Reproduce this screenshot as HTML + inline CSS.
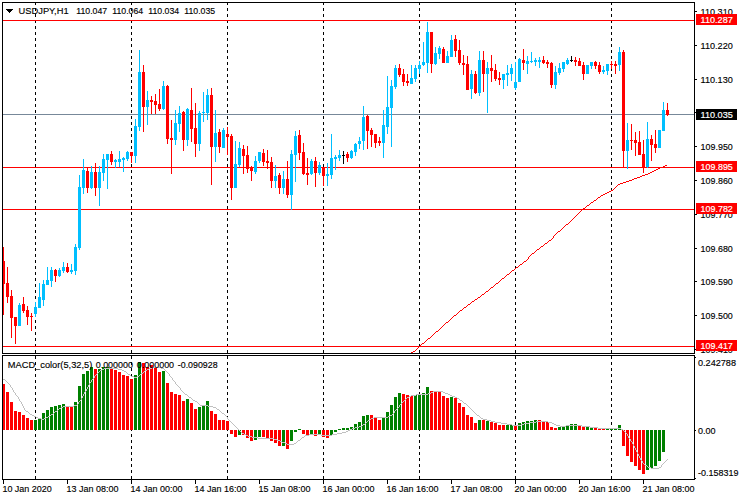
<!DOCTYPE html>
<html><head><meta charset="utf-8"><title>USDJPY,H1</title>
<style>
html,body{margin:0;padding:0;background:#fff;}
body{width:740px;height:500px;overflow:hidden;}
svg{display:block;}
svg rect,svg polyline,svg path{shape-rendering:crispEdges;}
svg text{font-family:"Liberation Sans",sans-serif;font-size:9.7px;white-space:pre;}
</style></head><body>
<svg width="740" height="500" viewBox="0 0 740 500">
<rect x="0" y="0" width="740" height="500" fill="#fff"/>
<path fill="#000" d="M35 3h1v2h-1zM35 8h1v3h-1zM35 14h1v3h-1zM35 20h1v3h-1zM35 26h1v3h-1zM35 32h1v3h-1zM35 38h1v3h-1zM35 44h1v3h-1zM35 50h1v3h-1zM35 56h1v3h-1zM35 62h1v3h-1zM35 68h1v3h-1zM35 74h1v3h-1zM35 80h1v3h-1zM35 86h1v3h-1zM35 92h1v3h-1zM35 98h1v3h-1zM35 104h1v3h-1zM35 110h1v3h-1zM35 116h1v3h-1zM35 122h1v3h-1zM35 128h1v3h-1zM35 134h1v3h-1zM35 140h1v3h-1zM35 146h1v3h-1zM35 152h1v3h-1zM35 158h1v3h-1zM35 164h1v3h-1zM35 170h1v3h-1zM35 176h1v3h-1zM35 182h1v3h-1zM35 188h1v3h-1zM35 194h1v3h-1zM35 200h1v3h-1zM35 206h1v3h-1zM35 212h1v3h-1zM35 218h1v3h-1zM35 224h1v3h-1zM35 230h1v3h-1zM35 236h1v3h-1zM35 242h1v3h-1zM35 248h1v3h-1zM35 254h1v3h-1zM35 260h1v3h-1zM35 266h1v3h-1zM35 272h1v3h-1zM35 278h1v3h-1zM35 284h1v3h-1zM35 290h1v3h-1zM35 296h1v3h-1zM35 302h1v3h-1zM35 308h1v3h-1zM35 314h1v3h-1zM35 320h1v3h-1zM35 326h1v3h-1zM35 332h1v3h-1zM35 338h1v3h-1zM35 344h1v3h-1zM35 350h1v3h-1zM35 356h1v3h-1zM35 362h1v3h-1zM35 368h1v3h-1zM35 374h1v3h-1zM35 380h1v3h-1zM35 386h1v3h-1zM35 392h1v3h-1zM35 398h1v3h-1zM35 404h1v3h-1zM35 410h1v3h-1zM35 416h1v3h-1zM35 422h1v3h-1zM35 428h1v3h-1zM35 434h1v3h-1zM35 440h1v3h-1zM35 446h1v3h-1zM35 452h1v3h-1zM35 458h1v3h-1zM35 464h1v3h-1zM35 470h1v3h-1zM35 476h1v3h-1zM131 3h1v2h-1zM131 8h1v3h-1zM131 14h1v3h-1zM131 20h1v3h-1zM131 26h1v3h-1zM131 32h1v3h-1zM131 38h1v3h-1zM131 44h1v3h-1zM131 50h1v3h-1zM131 56h1v3h-1zM131 62h1v3h-1zM131 68h1v3h-1zM131 74h1v3h-1zM131 80h1v3h-1zM131 86h1v3h-1zM131 92h1v3h-1zM131 98h1v3h-1zM131 104h1v3h-1zM131 110h1v3h-1zM131 116h1v3h-1zM131 122h1v3h-1zM131 128h1v3h-1zM131 134h1v3h-1zM131 140h1v3h-1zM131 146h1v3h-1zM131 152h1v3h-1zM131 158h1v3h-1zM131 164h1v3h-1zM131 170h1v3h-1zM131 176h1v3h-1zM131 182h1v3h-1zM131 188h1v3h-1zM131 194h1v3h-1zM131 200h1v3h-1zM131 206h1v3h-1zM131 212h1v3h-1zM131 218h1v3h-1zM131 224h1v3h-1zM131 230h1v3h-1zM131 236h1v3h-1zM131 242h1v3h-1zM131 248h1v3h-1zM131 254h1v3h-1zM131 260h1v3h-1zM131 266h1v3h-1zM131 272h1v3h-1zM131 278h1v3h-1zM131 284h1v3h-1zM131 290h1v3h-1zM131 296h1v3h-1zM131 302h1v3h-1zM131 308h1v3h-1zM131 314h1v3h-1zM131 320h1v3h-1zM131 326h1v3h-1zM131 332h1v3h-1zM131 338h1v3h-1zM131 344h1v3h-1zM131 350h1v3h-1zM131 356h1v3h-1zM131 362h1v3h-1zM131 368h1v3h-1zM131 374h1v3h-1zM131 380h1v3h-1zM131 386h1v3h-1zM131 392h1v3h-1zM131 398h1v3h-1zM131 404h1v3h-1zM131 410h1v3h-1zM131 416h1v3h-1zM131 422h1v3h-1zM131 428h1v3h-1zM131 434h1v3h-1zM131 440h1v3h-1zM131 446h1v3h-1zM131 452h1v3h-1zM131 458h1v3h-1zM131 464h1v3h-1zM131 470h1v3h-1zM131 476h1v3h-1zM227 3h1v2h-1zM227 8h1v3h-1zM227 14h1v3h-1zM227 20h1v3h-1zM227 26h1v3h-1zM227 32h1v3h-1zM227 38h1v3h-1zM227 44h1v3h-1zM227 50h1v3h-1zM227 56h1v3h-1zM227 62h1v3h-1zM227 68h1v3h-1zM227 74h1v3h-1zM227 80h1v3h-1zM227 86h1v3h-1zM227 92h1v3h-1zM227 98h1v3h-1zM227 104h1v3h-1zM227 110h1v3h-1zM227 116h1v3h-1zM227 122h1v3h-1zM227 128h1v3h-1zM227 134h1v3h-1zM227 140h1v3h-1zM227 146h1v3h-1zM227 152h1v3h-1zM227 158h1v3h-1zM227 164h1v3h-1zM227 170h1v3h-1zM227 176h1v3h-1zM227 182h1v3h-1zM227 188h1v3h-1zM227 194h1v3h-1zM227 200h1v3h-1zM227 206h1v3h-1zM227 212h1v3h-1zM227 218h1v3h-1zM227 224h1v3h-1zM227 230h1v3h-1zM227 236h1v3h-1zM227 242h1v3h-1zM227 248h1v3h-1zM227 254h1v3h-1zM227 260h1v3h-1zM227 266h1v3h-1zM227 272h1v3h-1zM227 278h1v3h-1zM227 284h1v3h-1zM227 290h1v3h-1zM227 296h1v3h-1zM227 302h1v3h-1zM227 308h1v3h-1zM227 314h1v3h-1zM227 320h1v3h-1zM227 326h1v3h-1zM227 332h1v3h-1zM227 338h1v3h-1zM227 344h1v3h-1zM227 350h1v3h-1zM227 356h1v3h-1zM227 362h1v3h-1zM227 368h1v3h-1zM227 374h1v3h-1zM227 380h1v3h-1zM227 386h1v3h-1zM227 392h1v3h-1zM227 398h1v3h-1zM227 404h1v3h-1zM227 410h1v3h-1zM227 416h1v3h-1zM227 422h1v3h-1zM227 428h1v3h-1zM227 434h1v3h-1zM227 440h1v3h-1zM227 446h1v3h-1zM227 452h1v3h-1zM227 458h1v3h-1zM227 464h1v3h-1zM227 470h1v3h-1zM227 476h1v3h-1zM323 3h1v2h-1zM323 8h1v3h-1zM323 14h1v3h-1zM323 20h1v3h-1zM323 26h1v3h-1zM323 32h1v3h-1zM323 38h1v3h-1zM323 44h1v3h-1zM323 50h1v3h-1zM323 56h1v3h-1zM323 62h1v3h-1zM323 68h1v3h-1zM323 74h1v3h-1zM323 80h1v3h-1zM323 86h1v3h-1zM323 92h1v3h-1zM323 98h1v3h-1zM323 104h1v3h-1zM323 110h1v3h-1zM323 116h1v3h-1zM323 122h1v3h-1zM323 128h1v3h-1zM323 134h1v3h-1zM323 140h1v3h-1zM323 146h1v3h-1zM323 152h1v3h-1zM323 158h1v3h-1zM323 164h1v3h-1zM323 170h1v3h-1zM323 176h1v3h-1zM323 182h1v3h-1zM323 188h1v3h-1zM323 194h1v3h-1zM323 200h1v3h-1zM323 206h1v3h-1zM323 212h1v3h-1zM323 218h1v3h-1zM323 224h1v3h-1zM323 230h1v3h-1zM323 236h1v3h-1zM323 242h1v3h-1zM323 248h1v3h-1zM323 254h1v3h-1zM323 260h1v3h-1zM323 266h1v3h-1zM323 272h1v3h-1zM323 278h1v3h-1zM323 284h1v3h-1zM323 290h1v3h-1zM323 296h1v3h-1zM323 302h1v3h-1zM323 308h1v3h-1zM323 314h1v3h-1zM323 320h1v3h-1zM323 326h1v3h-1zM323 332h1v3h-1zM323 338h1v3h-1zM323 344h1v3h-1zM323 350h1v3h-1zM323 356h1v3h-1zM323 362h1v3h-1zM323 368h1v3h-1zM323 374h1v3h-1zM323 380h1v3h-1zM323 386h1v3h-1zM323 392h1v3h-1zM323 398h1v3h-1zM323 404h1v3h-1zM323 410h1v3h-1zM323 416h1v3h-1zM323 422h1v3h-1zM323 428h1v3h-1zM323 434h1v3h-1zM323 440h1v3h-1zM323 446h1v3h-1zM323 452h1v3h-1zM323 458h1v3h-1zM323 464h1v3h-1zM323 470h1v3h-1zM323 476h1v3h-1zM419 3h1v2h-1zM419 8h1v3h-1zM419 14h1v3h-1zM419 20h1v3h-1zM419 26h1v3h-1zM419 32h1v3h-1zM419 38h1v3h-1zM419 44h1v3h-1zM419 50h1v3h-1zM419 56h1v3h-1zM419 62h1v3h-1zM419 68h1v3h-1zM419 74h1v3h-1zM419 80h1v3h-1zM419 86h1v3h-1zM419 92h1v3h-1zM419 98h1v3h-1zM419 104h1v3h-1zM419 110h1v3h-1zM419 116h1v3h-1zM419 122h1v3h-1zM419 128h1v3h-1zM419 134h1v3h-1zM419 140h1v3h-1zM419 146h1v3h-1zM419 152h1v3h-1zM419 158h1v3h-1zM419 164h1v3h-1zM419 170h1v3h-1zM419 176h1v3h-1zM419 182h1v3h-1zM419 188h1v3h-1zM419 194h1v3h-1zM419 200h1v3h-1zM419 206h1v3h-1zM419 212h1v3h-1zM419 218h1v3h-1zM419 224h1v3h-1zM419 230h1v3h-1zM419 236h1v3h-1zM419 242h1v3h-1zM419 248h1v3h-1zM419 254h1v3h-1zM419 260h1v3h-1zM419 266h1v3h-1zM419 272h1v3h-1zM419 278h1v3h-1zM419 284h1v3h-1zM419 290h1v3h-1zM419 296h1v3h-1zM419 302h1v3h-1zM419 308h1v3h-1zM419 314h1v3h-1zM419 320h1v3h-1zM419 326h1v3h-1zM419 332h1v3h-1zM419 338h1v3h-1zM419 344h1v3h-1zM419 350h1v3h-1zM419 356h1v3h-1zM419 362h1v3h-1zM419 368h1v3h-1zM419 374h1v3h-1zM419 380h1v3h-1zM419 386h1v3h-1zM419 392h1v3h-1zM419 398h1v3h-1zM419 404h1v3h-1zM419 410h1v3h-1zM419 416h1v3h-1zM419 422h1v3h-1zM419 428h1v3h-1zM419 434h1v3h-1zM419 440h1v3h-1zM419 446h1v3h-1zM419 452h1v3h-1zM419 458h1v3h-1zM419 464h1v3h-1zM419 470h1v3h-1zM419 476h1v3h-1zM515 3h1v2h-1zM515 8h1v3h-1zM515 14h1v3h-1zM515 20h1v3h-1zM515 26h1v3h-1zM515 32h1v3h-1zM515 38h1v3h-1zM515 44h1v3h-1zM515 50h1v3h-1zM515 56h1v3h-1zM515 62h1v3h-1zM515 68h1v3h-1zM515 74h1v3h-1zM515 80h1v3h-1zM515 86h1v3h-1zM515 92h1v3h-1zM515 98h1v3h-1zM515 104h1v3h-1zM515 110h1v3h-1zM515 116h1v3h-1zM515 122h1v3h-1zM515 128h1v3h-1zM515 134h1v3h-1zM515 140h1v3h-1zM515 146h1v3h-1zM515 152h1v3h-1zM515 158h1v3h-1zM515 164h1v3h-1zM515 170h1v3h-1zM515 176h1v3h-1zM515 182h1v3h-1zM515 188h1v3h-1zM515 194h1v3h-1zM515 200h1v3h-1zM515 206h1v3h-1zM515 212h1v3h-1zM515 218h1v3h-1zM515 224h1v3h-1zM515 230h1v3h-1zM515 236h1v3h-1zM515 242h1v3h-1zM515 248h1v3h-1zM515 254h1v3h-1zM515 260h1v3h-1zM515 266h1v3h-1zM515 272h1v3h-1zM515 278h1v3h-1zM515 284h1v3h-1zM515 290h1v3h-1zM515 296h1v3h-1zM515 302h1v3h-1zM515 308h1v3h-1zM515 314h1v3h-1zM515 320h1v3h-1zM515 326h1v3h-1zM515 332h1v3h-1zM515 338h1v3h-1zM515 344h1v3h-1zM515 350h1v3h-1zM515 356h1v3h-1zM515 362h1v3h-1zM515 368h1v3h-1zM515 374h1v3h-1zM515 380h1v3h-1zM515 386h1v3h-1zM515 392h1v3h-1zM515 398h1v3h-1zM515 404h1v3h-1zM515 410h1v3h-1zM515 416h1v3h-1zM515 422h1v3h-1zM515 428h1v3h-1zM515 434h1v3h-1zM515 440h1v3h-1zM515 446h1v3h-1zM515 452h1v3h-1zM515 458h1v3h-1zM515 464h1v3h-1zM515 470h1v3h-1zM515 476h1v3h-1zM611 3h1v2h-1zM611 8h1v3h-1zM611 14h1v3h-1zM611 20h1v3h-1zM611 26h1v3h-1zM611 32h1v3h-1zM611 38h1v3h-1zM611 44h1v3h-1zM611 50h1v3h-1zM611 56h1v3h-1zM611 62h1v3h-1zM611 68h1v3h-1zM611 74h1v3h-1zM611 80h1v3h-1zM611 86h1v3h-1zM611 92h1v3h-1zM611 98h1v3h-1zM611 104h1v3h-1zM611 110h1v3h-1zM611 116h1v3h-1zM611 122h1v3h-1zM611 128h1v3h-1zM611 134h1v3h-1zM611 140h1v3h-1zM611 146h1v3h-1zM611 152h1v3h-1zM611 158h1v3h-1zM611 164h1v3h-1zM611 170h1v3h-1zM611 176h1v3h-1zM611 182h1v3h-1zM611 188h1v3h-1zM611 194h1v3h-1zM611 200h1v3h-1zM611 206h1v3h-1zM611 212h1v3h-1zM611 218h1v3h-1zM611 224h1v3h-1zM611 230h1v3h-1zM611 236h1v3h-1zM611 242h1v3h-1zM611 248h1v3h-1zM611 254h1v3h-1zM611 260h1v3h-1zM611 266h1v3h-1zM611 272h1v3h-1zM611 278h1v3h-1zM611 284h1v3h-1zM611 290h1v3h-1zM611 296h1v3h-1zM611 302h1v3h-1zM611 308h1v3h-1zM611 314h1v3h-1zM611 320h1v3h-1zM611 326h1v3h-1zM611 332h1v3h-1zM611 338h1v3h-1zM611 344h1v3h-1zM611 350h1v3h-1zM611 356h1v3h-1zM611 362h1v3h-1zM611 368h1v3h-1zM611 374h1v3h-1zM611 380h1v3h-1zM611 386h1v3h-1zM611 392h1v3h-1zM611 398h1v3h-1zM611 404h1v3h-1zM611 410h1v3h-1zM611 416h1v3h-1zM611 422h1v3h-1zM611 428h1v3h-1zM611 434h1v3h-1zM611 440h1v3h-1zM611 446h1v3h-1zM611 452h1v3h-1zM611 458h1v3h-1zM611 464h1v3h-1zM611 470h1v3h-1zM611 476h1v3h-1z"/>
<path fill="#778899" d="M3 114h691v1h-691z"/>
<path fill="#FF0000" d="M3 20h691v1h-691zM3 167h691v1h-691zM3 209h691v1h-691zM3 346h691v1h-691zM411 352h1v1h-1zM412 352h1v1h-1zM413 351h1v1h-1zM414 351h1v1h-1zM415 350h1v1h-1zM416 349h1v1h-1zM417 348h1v1h-1zM418 347h1v1h-1zM419 346h1v1h-1zM420 345h1v1h-1zM421 344h1v1h-1zM422 343h1v1h-1zM423 343h1v1h-1zM424 342h1v1h-1zM425 341h1v1h-1zM426 340h1v1h-1zM427 339h1v1h-1zM428 338h1v1h-1zM429 338h1v1h-1zM430 337h1v1h-1zM431 336h1v1h-1zM432 335h1v1h-1zM433 334h1v1h-1zM434 333h1v1h-1zM435 332h1v1h-1zM436 331h1v1h-1zM437 331h1v1h-1zM438 330h1v1h-1zM439 329h1v1h-1zM440 328h1v1h-1zM441 327h1v1h-1zM442 326h1v1h-1zM443 325h1v1h-1zM444 324h1v1h-1zM445 323h1v1h-1zM446 322h1v1h-1zM447 322h1v1h-1zM448 321h1v1h-1zM449 320h1v1h-1zM450 319h1v1h-1zM451 318h1v1h-1zM452 317h1v1h-1zM453 316h1v1h-1zM454 315h1v1h-1zM455 315h1v1h-1zM456 314h1v1h-1zM457 313h1v1h-1zM458 312h1v1h-1zM459 311h1v1h-1zM460 310h1v1h-1zM461 310h1v1h-1zM462 309h1v1h-1zM463 308h1v1h-1zM464 307h1v1h-1zM465 307h1v1h-1zM466 306h1v1h-1zM467 305h1v1h-1zM468 304h1v1h-1zM469 304h1v1h-1zM470 303h1v1h-1zM471 302h1v1h-1zM472 301h1v1h-1zM473 301h1v1h-1zM474 300h1v1h-1zM475 299h1v1h-1zM476 299h1v1h-1zM477 298h1v1h-1zM478 297h1v1h-1zM479 297h1v1h-1zM480 296h1v1h-1zM481 295h1v1h-1zM482 294h1v1h-1zM483 294h1v1h-1zM484 293h1v1h-1zM485 292h1v1h-1zM486 291h1v1h-1zM487 291h1v1h-1zM488 290h1v1h-1zM489 289h1v1h-1zM490 288h1v1h-1zM491 287h1v1h-1zM492 287h1v1h-1zM493 286h1v1h-1zM494 285h1v1h-1zM495 284h1v1h-1zM496 283h1v1h-1zM497 283h1v1h-1zM498 282h1v1h-1zM499 281h1v1h-1zM500 280h1v1h-1zM501 279h1v1h-1zM502 278h1v1h-1zM503 278h1v1h-1zM504 277h1v1h-1zM505 276h1v1h-1zM506 275h1v1h-1zM507 274h1v1h-1zM508 274h1v1h-1zM509 273h1v1h-1zM510 272h1v1h-1zM511 271h1v1h-1zM512 270h1v1h-1zM513 270h1v1h-1zM514 269h1v1h-1zM515 268h1v1h-1zM516 267h1v1h-1zM517 267h1v1h-1zM518 266h1v1h-1zM519 265h1v1h-1zM520 264h1v1h-1zM521 264h1v1h-1zM522 263h1v1h-1zM523 262h1v1h-1zM524 261h1v1h-1zM525 261h1v1h-1zM526 260h1v1h-1zM527 259h1v1h-1zM528 257h1v2h-1zM529 256h1v1h-1zM530 255h1v1h-1zM531 254h1v1h-1zM532 253h1v1h-1zM533 253h1v1h-1zM534 252h1v1h-1zM535 251h1v1h-1zM536 250h1v1h-1zM537 249h1v1h-1zM538 249h1v1h-1zM539 248h1v1h-1zM540 247h1v1h-1zM541 246h1v1h-1zM542 246h1v1h-1zM543 245h1v1h-1zM544 244h1v1h-1zM545 243h1v1h-1zM546 243h1v1h-1zM547 242h1v1h-1zM548 241h1v1h-1zM549 240h1v1h-1zM550 240h1v1h-1zM551 239h1v1h-1zM552 238h1v1h-1zM553 236h1v2h-1zM554 235h1v1h-1zM555 234h1v1h-1zM556 233h1v1h-1zM557 232h1v1h-1zM558 231h1v1h-1zM559 231h1v1h-1zM560 230h1v1h-1zM561 229h1v1h-1zM562 228h1v1h-1zM563 227h1v1h-1zM564 226h1v1h-1zM565 225h1v1h-1zM566 224h1v1h-1zM567 224h1v1h-1zM568 223h1v1h-1zM569 222h1v1h-1zM570 221h1v1h-1zM571 220h1v1h-1zM572 219h1v1h-1zM573 218h1v1h-1zM574 217h1v1h-1zM575 216h1v1h-1zM576 215h1v1h-1zM577 214h1v1h-1zM578 213h1v1h-1zM579 212h1v1h-1zM580 211h1v1h-1zM581 210h1v1h-1zM582 209h1v1h-1zM583 208h1v1h-1zM584 208h1v1h-1zM585 207h1v1h-1zM586 206h1v1h-1zM587 205h1v1h-1zM588 205h1v1h-1zM589 204h1v1h-1zM590 203h1v1h-1zM591 202h1v1h-1zM592 202h1v1h-1zM593 201h1v1h-1zM594 200h1v1h-1zM595 200h1v1h-1zM596 199h1v1h-1zM597 198h1v1h-1zM598 197h1v1h-1zM599 197h1v1h-1zM600 196h1v1h-1zM601 195h1v1h-1zM602 195h1v1h-1zM603 194h1v1h-1zM604 194h1v1h-1zM605 193h1v1h-1zM606 193h1v1h-1zM607 192h1v1h-1zM608 192h1v1h-1zM609 191h1v1h-1zM610 191h1v1h-1zM611 190h1v1h-1zM612 190h1v1h-1zM613 189h1v1h-1zM614 188h1v1h-1zM615 187h1v1h-1zM616 186h1v1h-1zM617 185h1v1h-1zM618 184h1v1h-1zM619 184h1v1h-1zM620 183h1v1h-1zM621 183h1v1h-1zM622 183h1v1h-1zM623 182h1v1h-1zM624 182h1v1h-1zM625 182h1v1h-1zM626 181h1v1h-1zM627 181h1v1h-1zM628 181h1v1h-1zM629 180h1v1h-1zM630 180h1v1h-1zM631 180h1v1h-1zM632 179h1v1h-1zM633 179h1v1h-1zM634 178h1v1h-1zM635 178h1v1h-1zM636 178h1v1h-1zM637 177h1v1h-1zM638 177h1v1h-1zM639 177h1v1h-1zM640 176h1v1h-1zM641 176h1v1h-1zM642 175h1v1h-1zM643 175h1v1h-1zM644 175h1v1h-1zM645 174h1v1h-1zM646 174h1v1h-1zM647 174h1v1h-1zM648 173h1v1h-1zM649 173h1v1h-1zM650 172h1v1h-1zM651 172h1v1h-1zM652 171h1v1h-1zM653 171h1v1h-1zM654 170h1v1h-1zM655 170h1v1h-1zM656 169h1v1h-1zM657 169h1v1h-1zM658 168h1v1h-1zM659 168h1v1h-1zM660 167h1v1h-1zM661 167h1v1h-1zM662 167h1v1h-1zM663 166h1v1h-1zM664 166h1v1h-1zM665 165h1v1h-1zM666 165h1v1h-1zM3 247h1v68h-1zM2 261h3v23h-3zM7 267h1v36h-1zM6 283h3v14h-3zM11 290h1v48h-1zM10 296h3v22h-3zM15 317h1v27h-1zM14 317h3v9h-3z"/>
<path fill="#00BFFF" d="M19 303h1v23h-1zM18 305h3v21h-3z"/>
<path fill="#FF0000" d="M23 297h1v16h-1zM22 304h3v7h-3zM27 306h1v19h-1zM26 310h3v7h-3zM31 313h1v18h-1zM30 316h3v1h-3z"/>
<path fill="#00BFFF" d="M35 302h1v15h-1zM34 307h3v7h-3zM39 283h1v25h-1zM38 297h3v11h-3zM43 280h1v26h-1zM42 284h3v16h-3zM47 267h1v18h-1zM46 280h3v5h-3zM51 267h1v20h-1zM50 270h3v11h-3z"/>
<path fill="#FF0000" d="M55 269h1v13h-1zM54 270h3v6h-3z"/>
<path fill="#00BFFF" d="M59 268h1v9h-1zM58 270h3v6h-3zM63 262h1v11h-1zM62 267h3v4h-3z"/>
<path fill="#FF0000" d="M67 263h1v10h-1zM66 267h3v5h-3z"/>
<path fill="#00BFFF" d="M71 264h1v10h-1zM70 270h3v2h-3zM75 244h1v31h-1zM74 247h3v24h-3zM79 175h1v75h-1zM78 187h3v61h-3zM83 159h1v35h-1zM82 170h3v18h-3z"/>
<path fill="#FF0000" d="M87 168h1v25h-1zM86 171h3v17h-3z"/>
<path fill="#00BFFF" d="M91 166h1v23h-1zM90 172h3v16h-3z"/>
<path fill="#FF0000" d="M95 163h1v33h-1zM94 172h3v16h-3z"/>
<path fill="#00BFFF" d="M99 166h1v40h-1zM98 172h3v16h-3zM103 154h1v27h-1zM102 159h3v14h-3zM107 154h1v35h-1zM106 154h3v6h-3z"/>
<path fill="#FF0000" d="M111 151h1v14h-1zM110 154h3v8h-3z"/>
<path fill="#00BFFF" d="M115 159h1v9h-1zM114 160h3v2h-3zM119 151h1v16h-1zM118 159h3v3h-3zM123 157h1v15h-1zM122 158h3v2h-3zM127 151h1v10h-1zM126 152h3v7h-3z"/>
<path fill="#FF0000" d="M131 152h1v11h-1zM130 152h3v4h-3z"/>
<path fill="#00BFFF" d="M135 119h1v44h-1zM134 126h3v30h-3zM139 50h1v81h-1zM138 72h3v55h-3z"/>
<path fill="#FF0000" d="M143 65h1v67h-1zM142 72h3v35h-3z"/>
<path fill="#00BFFF" d="M147 91h1v34h-1zM146 100h3v7h-3z"/>
<path fill="#FF0000" d="M151 96h1v18h-1zM150 100h3v2h-3zM155 94h1v20h-1zM154 101h3v4h-3zM159 89h1v22h-1zM158 104h3v5h-3z"/>
<path fill="#00BFFF" d="M163 81h1v29h-1zM162 86h3v23h-3z"/>
<path fill="#FF0000" d="M167 85h1v59h-1zM166 86h3v53h-3zM171 120h1v54h-1zM170 138h3v2h-3z"/>
<path fill="#00BFFF" d="M175 110h1v35h-1zM174 123h3v17h-3zM179 106h1v26h-1zM178 113h3v11h-3z"/>
<path fill="#FF0000" d="M183 111h1v40h-1zM182 112h3v28h-3z"/>
<path fill="#00BFFF" d="M187 108h1v38h-1zM186 109h3v31h-3z"/>
<path fill="#FF0000" d="M191 88h1v54h-1zM190 110h3v19h-3zM195 103h1v54h-1zM194 128h3v16h-3z"/>
<path fill="#00BFFF" d="M199 111h1v40h-1zM198 113h3v31h-3zM203 92h1v30h-1zM202 112h3v1h-3zM207 89h1v31h-1zM206 95h3v18h-3z"/>
<path fill="#FF0000" d="M211 88h1v97h-1zM210 95h3v52h-3z"/>
<path fill="#00BFFF" d="M215 110h1v52h-1zM214 133h3v14h-3z"/>
<path fill="#FF0000" d="M219 129h1v24h-1zM218 132h3v15h-3z"/>
<path fill="#00BFFF" d="M223 128h1v20h-1zM222 130h3v18h-3z"/>
<path fill="#FF0000" d="M227 127h1v28h-1zM226 134h3v3h-3zM231 134h1v66h-1zM230 136h3v52h-3z"/>
<path fill="#00BFFF" d="M235 141h1v47h-1zM234 164h3v24h-3zM239 142h1v25h-1zM238 148h3v17h-3z"/>
<path fill="#FF0000" d="M243 145h1v29h-1zM242 149h3v7h-3zM247 146h1v27h-1zM246 155h3v14h-3zM251 166h1v15h-1zM250 167h3v4h-3z"/>
<path fill="#00BFFF" d="M255 156h1v18h-1zM254 161h3v11h-3zM259 152h1v11h-1zM258 152h3v9h-3z"/>
<path fill="#FF0000" d="M263 149h1v17h-1zM262 153h3v9h-3zM267 150h1v19h-1zM266 161h3v2h-3zM271 157h1v31h-1zM270 162h3v19h-3z"/>
<path fill="#00BFFF" d="M275 165h1v23h-1zM274 176h3v5h-3z"/>
<path fill="#FF0000" d="M279 173h1v21h-1zM278 175h3v13h-3z"/>
<path fill="#00BFFF" d="M283 171h1v23h-1zM282 179h3v9h-3z"/>
<path fill="#FF0000" d="M287 161h1v37h-1zM286 179h3v16h-3z"/>
<path fill="#00BFFF" d="M291 150h1v60h-1zM290 154h3v41h-3zM295 131h1v51h-1zM294 136h3v19h-3z"/>
<path fill="#FF0000" d="M299 130h1v30h-1zM298 135h3v18h-3zM303 143h1v32h-1zM302 152h3v22h-3zM307 158h1v27h-1zM306 173h3v2h-3z"/>
<path fill="#00BFFF" d="M311 159h1v16h-1zM310 161h3v13h-3z"/>
<path fill="#FF0000" d="M315 157h1v30h-1zM314 161h3v12h-3z"/>
<path fill="#00BFFF" d="M319 162h1v13h-1zM318 165h3v8h-3z"/>
<path fill="#FF0000" d="M323 167h1v19h-1zM322 167h3v9h-3z"/>
<path fill="#00BFFF" d="M327 163h1v23h-1zM326 174h3v2h-3zM331 134h1v45h-1zM330 158h3v17h-3zM335 155h1v15h-1zM334 157h3v2h-3zM339 150h1v11h-1zM338 155h3v3h-3z"/>
<path fill="#000" d="M343 151h1v13h-1zM342 155h3v1h-3z"/>
<path fill="#FF0000" d="M347 152h1v10h-1zM346 154h3v4h-3z"/>
<path fill="#00BFFF" d="M351 150h1v9h-1zM350 151h3v7h-3zM355 143h1v13h-1zM354 144h3v8h-3zM359 137h1v12h-1zM358 141h3v3h-3zM363 106h1v44h-1zM362 117h3v24h-3z"/>
<path fill="#FF0000" d="M367 115h1v34h-1zM366 116h3v15h-3zM371 128h1v19h-1zM370 130h3v5h-3zM375 134h1v14h-1zM374 134h3v9h-3zM379 137h1v9h-1zM378 141h3v2h-3z"/>
<path fill="#00BFFF" d="M383 110h1v48h-1zM382 125h3v18h-3zM387 76h1v58h-1zM386 107h3v20h-3zM391 80h1v67h-1zM390 86h3v22h-3zM395 65h1v24h-1zM394 68h3v19h-3z"/>
<path fill="#FF0000" d="M399 64h1v13h-1zM398 68h3v7h-3zM403 69h1v17h-1zM402 74h3v8h-3zM407 74h1v12h-1zM406 81h3v2h-3z"/>
<path fill="#00BFFF" d="M411 65h1v19h-1zM410 78h3v6h-3zM415 65h1v17h-1zM414 68h3v11h-3zM419 61h1v13h-1zM418 65h3v4h-3zM423 42h1v24h-1zM422 62h3v3h-3zM427 22h1v51h-1zM426 32h3v31h-3z"/>
<path fill="#FF0000" d="M431 32h1v41h-1zM430 32h3v32h-3z"/>
<path fill="#00BFFF" d="M435 47h1v18h-1zM434 53h3v11h-3zM439 46h1v13h-1zM438 48h3v6h-3z"/>
<path fill="#FF0000" d="M443 47h1v16h-1zM442 49h3v14h-3z"/>
<path fill="#00BFFF" d="M447 51h1v12h-1zM446 56h3v7h-3zM451 35h1v22h-1zM450 40h3v17h-3z"/>
<path fill="#FF0000" d="M455 35h1v22h-1zM454 39h3v12h-3zM459 40h1v25h-1zM458 50h3v13h-3zM463 55h1v20h-1zM462 63h3v2h-3zM467 56h1v34h-1zM466 64h3v26h-3z"/>
<path fill="#00BFFF" d="M471 70h1v29h-1zM470 74h3v15h-3z"/>
<path fill="#FF0000" d="M475 71h1v23h-1zM474 74h3v19h-3z"/>
<path fill="#00BFFF" d="M479 51h1v45h-1zM478 60h3v33h-3z"/>
<path fill="#FF0000" d="M483 51h1v41h-1zM482 60h3v14h-3z"/>
<path fill="#00BFFF" d="M487 62h1v51h-1zM486 68h3v6h-3z"/>
<path fill="#FF0000" d="M491 55h1v27h-1zM490 68h3v3h-3zM495 64h1v17h-1zM494 70h3v9h-3zM499 72h1v13h-1zM498 78h3v2h-3z"/>
<path fill="#00BFFF" d="M503 74h1v15h-1zM502 74h3v6h-3zM507 65h1v21h-1zM506 73h3v2h-3zM511 64h1v17h-1zM510 68h3v6h-3zM515 62h1v28h-1zM514 82h3v6h-3zM519 58h1v24h-1zM518 59h3v23h-3z"/>
<path fill="#FF0000" d="M523 49h1v21h-1zM522 60h3v3h-3z"/>
<path fill="#00BFFF" d="M527 56h1v18h-1zM526 61h3v3h-3zM531 52h1v11h-1zM530 61h3v1h-3zM535 58h1v8h-1zM534 60h3v2h-3zM539 57h1v11h-1zM538 60h3v2h-3z"/>
<path fill="#FF0000" d="M543 56h1v8h-1zM542 60h3v3h-3zM547 60h1v8h-1zM546 62h3v2h-3zM551 62h1v26h-1zM550 63h3v22h-3z"/>
<path fill="#00BFFF" d="M555 66h1v23h-1zM554 72h3v13h-3zM559 63h1v12h-1zM558 68h3v5h-3zM563 62h1v10h-1zM562 62h3v7h-3zM567 58h1v7h-1zM566 60h3v4h-3z"/>
<path fill="#000" d="M571 56h1v6h-1zM570 60h3v1h-3z"/>
<path fill="#FF0000" d="M575 57h1v9h-1zM574 60h3v2h-3zM579 58h1v8h-1zM578 61h3v5h-3zM583 62h1v18h-1zM582 65h3v9h-3z"/>
<path fill="#00BFFF" d="M587 65h1v9h-1zM586 65h3v9h-3zM591 62h1v7h-1zM590 62h3v4h-3z"/>
<path fill="#FF0000" d="M595 61h1v8h-1zM594 62h3v4h-3zM599 62h1v12h-1zM598 65h3v7h-3z"/>
<path fill="#00BFFF" d="M603 66h1v8h-1zM602 70h3v2h-3zM607 64h1v11h-1zM606 64h3v7h-3z"/>
<path fill="#FF0000" d="M611 61h1v8h-1zM610 64h3v1h-3zM615 61h1v13h-1zM614 64h3v2h-3z"/>
<path fill="#00BFFF" d="M619 47h1v24h-1zM618 52h3v13h-3z"/>
<path fill="#FF0000" d="M623 50h1v117h-1zM622 52h3v99h-3z"/>
<path fill="#00BFFF" d="M627 123h1v46h-1zM626 140h3v11h-3z"/>
<path fill="#FF0000" d="M631 124h1v26h-1zM630 140h3v1h-3zM635 132h1v24h-1zM634 140h3v3h-3zM639 131h1v24h-1zM638 142h3v13h-3zM643 140h1v33h-1zM642 154h3v13h-3z"/>
<path fill="#00BFFF" d="M647 122h1v46h-1zM646 139h3v28h-3z"/>
<path fill="#FF0000" d="M651 135h1v26h-1zM650 139h3v6h-3zM655 130h1v23h-1zM654 144h3v4h-3z"/>
<path fill="#00BFFF" d="M659 130h1v18h-1zM658 130h3v18h-3zM663 102h1v29h-1zM662 110h3v21h-3z"/>
<path fill="#FF0000" d="M667 103h1v13h-1zM666 110h3v5h-3zM2 384h3v46h-3zM6 392h3v38h-3zM10 402h3v28h-3zM14 411h3v19h-3zM18 412h3v18h-3zM22 415h3v15h-3zM26 418h3v12h-3zM30 420h3v10h-3z"/>
<path fill="#008000" d="M34 420h3v10h-3zM38 418h3v12h-3zM42 413h3v17h-3zM46 410h3v20h-3zM50 407h3v23h-3zM54 406h3v24h-3zM58 405h3v25h-3zM62 404h3v26h-3z"/>
<path fill="#FF0000" d="M66 406h3v24h-3zM70 406h3v24h-3z"/>
<path fill="#008000" d="M74 402h3v28h-3zM78 386h3v44h-3zM82 374h3v56h-3zM86 371h3v59h-3zM90 367h3v63h-3z"/>
<path fill="#FF0000" d="M94 369h3v61h-3z"/>
<path fill="#008000" d="M98 369h3v61h-3zM102 367h3v63h-3zM106 367h3v63h-3z"/>
<path fill="#FF0000" d="M110 369h3v61h-3zM114 370h3v60h-3zM118 372h3v58h-3zM122 375h3v55h-3zM126 376h3v54h-3zM130 379h3v51h-3z"/>
<path fill="#008000" d="M134 375h3v55h-3zM138 362h3v68h-3z"/>
<path fill="#FF0000" d="M142 363h3v67h-3zM146 367h3v63h-3zM150 365h3v65h-3zM154 368h3v62h-3zM158 372h3v58h-3z"/>
<path fill="#008000" d="M162 371h3v59h-3z"/>
<path fill="#FF0000" d="M166 383h3v47h-3zM170 392h3v38h-3zM174 394h3v36h-3zM178 395h3v35h-3zM182 401h3v29h-3z"/>
<path fill="#008000" d="M186 399h3v31h-3z"/>
<path fill="#FF0000" d="M190 403h3v27h-3zM194 409h3v21h-3z"/>
<path fill="#008000" d="M198 407h3v23h-3zM202 406h3v24h-3zM206 401h3v29h-3z"/>
<path fill="#FF0000" d="M210 411h3v19h-3zM214 414h3v16h-3zM218 420h3v10h-3zM222 420h3v10h-3zM226 421h3v9h-3zM230 430h3v4h-3zM234 430h3v7h-3z"/>
<path fill="#008000" d="M238 430h3v5h-3z"/>
<path fill="#FF0000" d="M242 430h3v5h-3zM246 430h3v8h-3zM250 430h3v11h-3z"/>
<path fill="#008000" d="M254 430h3v10h-3zM258 430h3v7h-3z"/>
<path fill="#FF0000" d="M262 430h3v7h-3zM266 430h3v8h-3zM270 430h3v11h-3zM274 430h3v13h-3zM278 430h3v16h-3z"/>
<path fill="#008000" d="M282 430h3v16h-3z"/>
<path fill="#FF0000" d="M286 430h3v19h-3z"/>
<path fill="#008000" d="M290 430h3v11h-3zM294 430h3v2h-3zM298 429h3v1h-3z"/>
<path fill="#FF0000" d="M302 430h3v4h-3zM306 430h3v6h-3z"/>
<path fill="#008000" d="M310 430h3v5h-3z"/>
<path fill="#FF0000" d="M314 430h3v6h-3z"/>
<path fill="#008000" d="M318 430h3v4h-3z"/>
<path fill="#FF0000" d="M322 430h3v7h-3zM326 430h3v8h-3z"/>
<path fill="#008000" d="M330 430h3v5h-3zM334 430h3v2h-3zM338 429h3v1h-3zM342 428h3v2h-3zM346 428h3v2h-3zM350 427h3v3h-3zM354 424h3v6h-3zM358 422h3v8h-3zM362 416h3v14h-3zM366 415h3v15h-3z"/>
<path fill="#FF0000" d="M370 415h3v15h-3zM374 418h3v12h-3zM378 420h3v10h-3z"/>
<path fill="#008000" d="M382 418h3v12h-3zM386 412h3v18h-3zM390 405h3v25h-3zM394 397h3v33h-3zM398 393h3v37h-3z"/>
<path fill="#FF0000" d="M402 394h3v36h-3zM406 395h3v35h-3zM410 396h3v34h-3z"/>
<path fill="#008000" d="M414 395h3v35h-3zM418 394h3v36h-3zM422 393h3v37h-3zM426 387h3v43h-3z"/>
<path fill="#FF0000" d="M430 391h3v39h-3zM434 392h3v38h-3zM438 392h3v38h-3zM442 396h3v34h-3zM446 398h3v32h-3z"/>
<path fill="#008000" d="M450 397h3v33h-3z"/>
<path fill="#FF0000" d="M454 398h3v32h-3zM458 403h3v27h-3zM462 407h3v23h-3zM466 415h3v15h-3zM470 417h3v13h-3zM474 423h3v7h-3z"/>
<path fill="#008000" d="M478 420h3v10h-3z"/>
<path fill="#FF0000" d="M482 420h3v10h-3z"/>
<path fill="#008000" d="M486 421h3v9h-3z"/>
<path fill="#FF0000" d="M490 422h3v8h-3zM494 423h3v7h-3zM498 425h3v5h-3zM502 425h3v5h-3z"/>
<path fill="#008000" d="M506 425h3v5h-3zM510 425h3v5h-3z"/>
<path fill="#FF0000" d="M514 426h3v4h-3z"/>
<path fill="#008000" d="M518 423h3v7h-3zM522 422h3v8h-3zM526 421h3v9h-3zM530 421h3v9h-3zM534 420h3v10h-3z"/>
<path fill="#FF0000" d="M538 420h3v10h-3zM542 422h3v8h-3zM546 422h3v8h-3zM550 427h3v3h-3zM554 428h3v2h-3z"/>
<path fill="#008000" d="M558 427h3v3h-3zM562 427h3v3h-3zM566 425h3v5h-3zM570 424h3v6h-3zM574 424h3v6h-3z"/>
<path fill="#FF0000" d="M578 426h3v4h-3zM582 427h3v3h-3z"/>
<path fill="#008000" d="M586 427h3v3h-3zM590 427h3v3h-3z"/>
<path fill="#FF0000" d="M594 428h3v2h-3zM598 429h3v1h-3zM602 429h3v1h-3z"/>
<path fill="#008000" d="M606 429h3v1h-3zM610 429h3v1h-3zM614 429h3v1h-3zM618 425h3v5h-3z"/>
<path fill="#FF0000" d="M622 430h3v16h-3zM626 430h3v26h-3zM630 430h3v32h-3zM634 430h3v36h-3zM638 430h3v40h-3zM642 430h3v44h-3z"/>
<path fill="#008000" d="M646 430h3v40h-3zM650 430h3v38h-3zM654 430h3v36h-3zM658 430h3v31h-3zM662 430h3v22h-3z"/>
<path fill="#C0C0C0" d="M3 379h1v1h-1zM4 379h1v1h-1zM5 380h1v1h-1zM6 381h1v1h-1zM7 382h1v1h-1zM8 383h1v1h-1zM9 384h1v1h-1zM10 385h1v2h-1zM11 387h1v1h-1zM12 388h1v2h-1zM13 390h1v2h-1zM14 392h1v1h-1zM15 393h1v2h-1zM16 395h1v1h-1zM17 396h1v1h-1zM18 397h1v2h-1zM19 399h1v2h-1zM20 401h1v1h-1zM21 402h1v2h-1zM22 404h1v2h-1zM23 406h1v2h-1zM24 408h1v2h-1zM25 410h1v1h-1zM26 411h1v1h-1zM27 411h1v1h-1zM28 412h1v1h-1zM29 413h1v1h-1zM30 414h1v1h-1zM31 414h1v1h-1zM32 415h1v1h-1zM33 415h1v1h-1zM34 416h1v1h-1zM35 416h1v1h-1zM36 417h1v1h-1zM37 417h1v1h-1zM38 418h1v1h-1zM39 418h1v1h-1zM40 418h1v1h-1zM41 419h1v1h-1zM42 419h1v1h-1zM43 419h1v1h-1zM44 418h1v1h-1zM45 418h1v1h-1zM46 417h1v1h-1zM47 417h1v1h-1zM48 416h1v1h-1zM49 416h1v1h-1zM50 415h1v1h-1zM51 414h1v1h-1zM52 414h1v1h-1zM53 413h1v1h-1zM54 412h1v1h-1zM55 411h1v1h-1zM56 411h1v1h-1zM57 410h1v1h-1zM58 409h1v1h-1zM59 408h1v1h-1zM60 408h1v1h-1zM61 407h1v1h-1zM62 407h1v1h-1zM63 406h1v1h-1zM64 406h1v1h-1zM65 406h1v1h-1zM66 406h1v1h-1zM67 406h1v1h-1zM68 406h1v1h-1zM69 406h1v1h-1zM70 406h1v1h-1zM71 406h1v1h-1zM72 406h1v1h-1zM73 406h1v1h-1zM74 405h1v1h-1zM75 405h1v1h-1zM76 405h1v1h-1zM77 404h1v1h-1zM78 402h1v2h-1zM79 401h1v1h-1zM80 400h1v1h-1zM81 398h1v2h-1zM82 396h1v2h-1zM83 394h1v2h-1zM84 392h1v2h-1zM85 391h1v1h-1zM86 389h1v2h-1zM87 387h1v2h-1zM88 385h1v2h-1zM89 383h1v2h-1zM90 382h1v1h-1zM91 380h1v2h-1zM92 379h1v1h-1zM93 378h1v1h-1zM94 376h1v2h-1zM95 375h1v1h-1zM96 374h1v1h-1zM97 373h1v1h-1zM98 372h1v1h-1zM99 371h1v1h-1zM100 370h1v1h-1zM101 370h1v1h-1zM102 369h1v1h-1zM103 369h1v1h-1zM104 368h1v1h-1zM105 368h1v1h-1zM106 368h1v1h-1zM107 368h1v1h-1zM108 368h1v1h-1zM109 368h1v1h-1zM110 368h1v1h-1zM111 368h1v1h-1zM112 368h1v1h-1zM113 368h1v1h-1zM114 368h1v1h-1zM115 368h1v1h-1zM116 368h1v1h-1zM117 368h1v1h-1zM118 369h1v1h-1zM119 369h1v1h-1zM120 369h1v1h-1zM121 369h1v1h-1zM122 370h1v1h-1zM123 370h1v1h-1zM124 371h1v1h-1zM125 371h1v1h-1zM126 372h1v1h-1zM127 373h1v1h-1zM128 374h1v1h-1zM129 374h1v1h-1zM130 375h1v1h-1zM131 376h1v1h-1zM132 376h1v1h-1zM133 376h1v1h-1zM134 377h1v1h-1zM135 377h1v1h-1zM136 377h1v1h-1zM137 376h1v1h-1zM138 376h1v1h-1zM139 375h1v1h-1zM140 374h1v1h-1zM141 373h1v1h-1zM142 373h1v1h-1zM143 372h1v1h-1zM144 371h1v1h-1zM145 370h1v1h-1zM146 370h1v1h-1zM147 369h1v1h-1zM148 369h1v1h-1zM149 368h1v1h-1zM150 368h1v1h-1zM151 368h1v1h-1zM152 367h1v1h-1zM153 367h1v1h-1zM154 367h1v1h-1zM155 367h1v1h-1zM156 367h1v1h-1zM157 367h1v1h-1zM158 367h1v1h-1zM159 367h1v1h-1zM160 367h1v1h-1zM161 368h1v1h-1zM162 368h1v1h-1zM163 368h1v1h-1zM164 369h1v1h-1zM165 370h1v1h-1zM166 371h1v1h-1zM167 372h1v1h-1zM168 373h1v1h-1zM169 374h1v2h-1zM170 376h1v1h-1zM171 377h1v1h-1zM172 378h1v2h-1zM173 380h1v1h-1zM174 381h1v1h-1zM175 382h1v2h-1zM176 384h1v1h-1zM177 385h1v1h-1zM178 386h1v1h-1zM179 387h1v1h-1zM180 388h1v2h-1zM181 390h1v1h-1zM182 391h1v1h-1zM183 392h1v1h-1zM184 393h1v1h-1zM185 394h1v1h-1zM186 394h1v1h-1zM187 395h1v1h-1zM188 396h1v1h-1zM189 397h1v1h-1zM190 397h1v1h-1zM191 398h1v1h-1zM192 399h1v1h-1zM193 400h1v1h-1zM194 400h1v1h-1zM195 401h1v1h-1zM196 401h1v1h-1zM197 402h1v1h-1zM198 403h1v1h-1zM199 404h1v1h-1zM200 405h1v1h-1zM201 405h1v1h-1zM202 405h1v1h-1zM203 405h1v1h-1zM204 405h1v1h-1zM205 405h1v1h-1zM206 405h1v1h-1zM207 405h1v1h-1zM208 406h1v1h-1zM209 406h1v1h-1zM210 406h1v1h-1zM211 406h1v1h-1zM212 406h1v1h-1zM213 407h1v1h-1zM214 407h1v1h-1zM215 407h1v1h-1zM216 408h1v1h-1zM217 409h1v1h-1zM218 409h1v1h-1zM219 410h1v1h-1zM220 411h1v1h-1zM221 412h1v1h-1zM222 413h1v1h-1zM223 413h1v1h-1zM224 414h1v1h-1zM225 415h1v1h-1zM226 416h1v1h-1zM227 417h1v2h-1zM228 419h1v1h-1zM229 420h1v1h-1zM230 421h1v1h-1zM231 422h1v1h-1zM232 423h1v1h-1zM233 424h1v1h-1zM234 425h1v1h-1zM235 426h1v1h-1zM236 427h1v1h-1zM237 428h1v1h-1zM238 429h1v1h-1zM239 430h1v1h-1zM240 431h1v1h-1zM241 432h1v1h-1zM242 433h1v1h-1zM243 433h1v1h-1zM244 434h1v1h-1zM245 434h1v1h-1zM246 435h1v1h-1zM247 435h1v1h-1zM248 436h1v1h-1zM249 436h1v1h-1zM250 436h1v1h-1zM251 436h1v1h-1zM252 437h1v1h-1zM253 437h1v1h-1zM254 437h1v1h-1zM255 437h1v1h-1zM256 437h1v1h-1zM257 437h1v1h-1zM258 438h1v1h-1zM259 438h1v1h-1zM260 438h1v1h-1zM261 438h1v1h-1zM262 438h1v1h-1zM263 438h1v1h-1zM264 438h1v1h-1zM265 438h1v1h-1zM266 438h1v1h-1zM267 438h1v1h-1zM268 438h1v1h-1zM269 438h1v1h-1zM270 438h1v1h-1zM271 438h1v1h-1zM272 438h1v1h-1zM273 438h1v1h-1zM274 439h1v1h-1zM275 439h1v1h-1zM276 439h1v1h-1zM277 440h1v1h-1zM278 440h1v1h-1zM279 440h1v1h-1zM280 441h1v1h-1zM281 441h1v1h-1zM282 442h1v1h-1zM283 442h1v1h-1zM284 442h1v1h-1zM285 443h1v1h-1zM286 443h1v1h-1zM287 444h1v1h-1zM288 444h1v1h-1zM289 444h1v1h-1zM290 444h1v1h-1zM291 444h1v1h-1zM292 444h1v1h-1zM293 444h1v1h-1zM294 443h1v1h-1zM295 443h1v1h-1zM296 442h1v1h-1zM297 441h1v1h-1zM298 440h1v1h-1zM299 440h1v1h-1zM300 439h1v1h-1zM301 438h1v1h-1zM302 437h1v1h-1zM303 437h1v1h-1zM304 436h1v1h-1zM305 435h1v1h-1zM306 435h1v1h-1zM307 435h1v1h-1zM308 435h1v1h-1zM309 434h1v1h-1zM310 434h1v1h-1zM311 434h1v1h-1zM312 434h1v1h-1zM313 434h1v1h-1zM314 434h1v1h-1zM315 434h1v1h-1zM316 434h1v1h-1zM317 434h1v1h-1zM318 434h1v1h-1zM319 434h1v1h-1zM320 434h1v1h-1zM321 435h1v1h-1zM322 435h1v1h-1zM323 435h1v1h-1zM324 435h1v1h-1zM325 435h1v1h-1zM326 435h1v1h-1zM327 435h1v1h-1zM328 435h1v1h-1zM329 435h1v1h-1zM330 435h1v1h-1zM331 435h1v1h-1zM332 434h1v1h-1zM333 434h1v1h-1zM334 434h1v1h-1zM335 434h1v1h-1zM336 434h1v1h-1zM337 433h1v1h-1zM338 433h1v1h-1zM339 433h1v1h-1zM340 433h1v1h-1zM341 433h1v1h-1zM342 432h1v1h-1zM343 432h1v1h-1zM344 432h1v1h-1zM345 432h1v1h-1zM346 431h1v1h-1zM347 431h1v1h-1zM348 430h1v1h-1zM349 430h1v1h-1zM350 429h1v1h-1zM351 429h1v1h-1zM352 428h1v1h-1zM353 428h1v1h-1zM354 428h1v1h-1zM355 427h1v1h-1zM356 427h1v1h-1zM357 427h1v1h-1zM358 427h1v1h-1zM359 426h1v1h-1zM360 426h1v1h-1zM361 426h1v1h-1zM362 425h1v1h-1zM363 424h1v1h-1zM364 424h1v1h-1zM365 423h1v1h-1zM366 422h1v1h-1zM367 421h1v1h-1zM368 420h1v1h-1zM369 420h1v1h-1zM370 419h1v1h-1zM371 418h1v1h-1zM372 418h1v1h-1zM373 418h1v1h-1zM374 417h1v1h-1zM375 417h1v1h-1zM376 417h1v1h-1zM377 417h1v1h-1zM378 417h1v1h-1zM379 417h1v1h-1zM380 417h1v1h-1zM381 417h1v1h-1zM382 417h1v1h-1zM383 417h1v1h-1zM384 417h1v1h-1zM385 417h1v1h-1zM386 417h1v1h-1zM387 417h1v1h-1zM388 416h1v1h-1zM389 416h1v1h-1zM390 415h1v1h-1zM391 415h1v1h-1zM392 414h1v1h-1zM393 413h1v1h-1zM394 411h1v2h-1zM395 410h1v1h-1zM396 409h1v1h-1zM397 408h1v1h-1zM398 407h1v1h-1zM399 405h1v2h-1zM400 404h1v1h-1zM401 403h1v1h-1zM402 402h1v1h-1zM403 401h1v1h-1zM404 400h1v1h-1zM405 399h1v1h-1zM406 398h1v1h-1zM407 397h1v1h-1zM408 397h1v1h-1zM409 396h1v1h-1zM410 396h1v1h-1zM411 395h1v1h-1zM412 395h1v1h-1zM413 395h1v1h-1zM414 395h1v1h-1zM415 395h1v1h-1zM416 394h1v1h-1zM417 394h1v1h-1zM418 394h1v1h-1zM419 394h1v1h-1zM420 394h1v1h-1zM421 394h1v1h-1zM422 394h1v1h-1zM423 394h1v1h-1zM424 394h1v1h-1zM425 394h1v1h-1zM426 394h1v1h-1zM427 394h1v1h-1zM428 393h1v1h-1zM429 393h1v1h-1zM430 393h1v1h-1zM431 392h1v1h-1zM432 392h1v1h-1zM433 391h1v1h-1zM434 391h1v1h-1zM435 391h1v1h-1zM436 391h1v1h-1zM437 391h1v1h-1zM438 391h1v1h-1zM439 391h1v1h-1zM440 391h1v1h-1zM441 391h1v1h-1zM442 391h1v1h-1zM443 392h1v1h-1zM444 392h1v1h-1zM445 393h1v1h-1zM446 393h1v1h-1zM447 393h1v1h-1zM448 394h1v1h-1zM449 394h1v1h-1zM450 395h1v1h-1zM451 395h1v1h-1zM452 396h1v1h-1zM453 396h1v1h-1zM454 396h1v1h-1zM455 397h1v1h-1zM456 397h1v1h-1zM457 398h1v1h-1zM458 398h1v1h-1zM459 399h1v1h-1zM460 400h1v1h-1zM461 400h1v1h-1zM462 401h1v1h-1zM463 402h1v1h-1zM464 403h1v1h-1zM465 403h1v1h-1zM466 404h1v1h-1zM467 405h1v1h-1zM468 406h1v1h-1zM469 407h1v1h-1zM470 408h1v1h-1zM471 409h1v1h-1zM472 410h1v1h-1zM473 411h1v1h-1zM474 412h1v1h-1zM475 413h1v1h-1zM476 414h1v1h-1zM477 415h1v1h-1zM478 415h1v1h-1zM479 416h1v1h-1zM480 417h1v1h-1zM481 418h1v1h-1zM482 418h1v1h-1zM483 419h1v1h-1zM484 419h1v1h-1zM485 419h1v1h-1zM486 419h1v1h-1zM487 420h1v1h-1zM488 420h1v1h-1zM489 420h1v1h-1zM490 420h1v1h-1zM491 421h1v1h-1zM492 421h1v1h-1zM493 421h1v1h-1zM494 421h1v1h-1zM495 422h1v1h-1zM496 422h1v1h-1zM497 422h1v1h-1zM498 422h1v1h-1zM499 422h1v1h-1zM500 422h1v1h-1zM501 423h1v1h-1zM502 423h1v1h-1zM503 423h1v1h-1zM504 423h1v1h-1zM505 423h1v1h-1zM506 423h1v1h-1zM507 424h1v1h-1zM508 424h1v1h-1zM509 424h1v1h-1zM510 424h1v1h-1zM511 424h1v1h-1zM512 425h1v1h-1zM513 425h1v1h-1zM514 425h1v1h-1zM515 425h1v1h-1zM516 425h1v1h-1zM517 425h1v1h-1zM518 425h1v1h-1zM519 425h1v1h-1zM520 425h1v1h-1zM521 424h1v1h-1zM522 424h1v1h-1zM523 424h1v1h-1zM524 423h1v1h-1zM525 423h1v1h-1zM526 423h1v1h-1zM527 423h1v1h-1zM528 423h1v1h-1zM529 422h1v1h-1zM530 422h1v1h-1zM531 422h1v1h-1zM532 422h1v1h-1zM533 422h1v1h-1zM534 422h1v1h-1zM535 422h1v1h-1zM536 421h1v1h-1zM537 421h1v1h-1zM538 421h1v1h-1zM539 421h1v1h-1zM540 421h1v1h-1zM541 421h1v1h-1zM542 421h1v1h-1zM543 421h1v1h-1zM544 421h1v1h-1zM545 421h1v1h-1zM546 421h1v1h-1zM547 421h1v1h-1zM548 422h1v1h-1zM549 422h1v1h-1zM550 422h1v1h-1zM551 422h1v1h-1zM552 423h1v1h-1zM553 423h1v1h-1zM554 424h1v1h-1zM555 424h1v1h-1zM556 425h1v1h-1zM557 425h1v1h-1zM558 425h1v1h-1zM559 425h1v1h-1zM560 426h1v1h-1zM561 426h1v1h-1zM562 426h1v1h-1zM563 426h1v1h-1zM564 426h1v1h-1zM565 426h1v1h-1zM566 425h1v1h-1zM567 425h1v1h-1zM568 425h1v1h-1zM569 425h1v1h-1zM570 425h1v1h-1zM571 425h1v1h-1zM572 425h1v1h-1zM573 425h1v1h-1zM574 425h1v1h-1zM575 425h1v1h-1zM576 425h1v1h-1zM577 425h1v1h-1zM578 425h1v1h-1zM579 425h1v1h-1zM580 425h1v1h-1zM581 425h1v1h-1zM582 426h1v1h-1zM583 426h1v1h-1zM584 426h1v1h-1zM585 426h1v1h-1zM586 426h1v1h-1zM587 426h1v1h-1zM588 426h1v1h-1zM589 426h1v1h-1zM590 427h1v1h-1zM591 427h1v1h-1zM592 427h1v1h-1zM593 427h1v1h-1zM594 427h1v1h-1zM595 427h1v1h-1zM596 427h1v1h-1zM597 427h1v1h-1zM598 428h1v1h-1zM599 428h1v1h-1zM600 428h1v1h-1zM601 428h1v1h-1zM602 428h1v1h-1zM603 428h1v1h-1zM604 428h1v1h-1zM605 428h1v1h-1zM606 428h1v1h-1zM607 428h1v1h-1zM608 428h1v1h-1zM609 428h1v1h-1zM610 428h1v1h-1zM611 428h1v1h-1zM612 428h1v1h-1zM613 428h1v1h-1zM614 428h1v1h-1zM615 428h1v1h-1zM616 428h1v1h-1zM617 428h1v1h-1zM618 428h1v1h-1zM619 428h1v1h-1zM620 428h1v1h-1zM621 429h1v1h-1zM622 429h1v1h-1zM623 430h1v1h-1zM624 431h1v1h-1zM625 432h1v1h-1zM626 433h1v1h-1zM627 434h1v2h-1zM628 436h1v2h-1zM629 438h1v1h-1zM630 439h1v2h-1zM631 441h1v1h-1zM632 442h1v2h-1zM633 444h1v2h-1zM634 446h1v2h-1zM635 448h1v2h-1zM636 450h1v2h-1zM637 452h1v2h-1zM638 454h1v2h-1zM639 456h1v2h-1zM640 458h1v2h-1zM641 460h1v1h-1zM642 461h1v2h-1zM643 463h1v1h-1zM644 464h1v1h-1zM645 465h1v1h-1zM646 465h1v1h-1zM647 466h1v1h-1zM648 467h1v1h-1zM649 467h1v1h-1zM650 467h1v1h-1zM651 468h1v1h-1zM652 468h1v1h-1zM653 468h1v1h-1zM654 468h1v1h-1zM655 468h1v1h-1zM656 468h1v1h-1zM657 468h1v1h-1zM658 468h1v1h-1zM659 467h1v1h-1zM660 467h1v1h-1zM661 465h1v2h-1zM662 464h1v1h-1zM663 463h1v1h-1zM664 462h1v1h-1zM665 461h1v1h-1zM666 460h1v1h-1zM667 459h1v1h-1z"/>
<text x="7.8" y="368" fill="#000" stroke="#000" stroke-width="0.15" textLength="84.5" lengthAdjust="spacingAndGlyphs">MACD_color(5,32,5)</text>
<text x="95.7" y="368" fill="#000" stroke="#000" stroke-width="0.15" textLength="37.3" lengthAdjust="spacingAndGlyphs">0.000000</text>
<text x="136.8" y="368" fill="#000" stroke="#000" stroke-width="0.15" textLength="37.3" lengthAdjust="spacingAndGlyphs">0.000000</text>
<text x="177.8" y="368" fill="#000" stroke="#000" stroke-width="0.15" textLength="39.8" lengthAdjust="spacingAndGlyphs">-0.090928</text>
<path fill="#000" d="M2 2h693v1h-693zM2 353h693v1h-693zM2 2h1v352h-1zM694 2h1v352h-1zM2 355h693v1h-693zM2 479h693v1h-693zM2 355h1v125h-1zM694 355h1v125h-1zM695 11h2v1h-2z"/>
<text x="700.6" y="15" fill="#000" stroke="#000" stroke-width="0.15" textLength="32.2" lengthAdjust="spacingAndGlyphs">110.310</text>
<path fill="#000" d="M695 45h2v1h-2z"/>
<text x="700.6" y="49" fill="#000" stroke="#000" stroke-width="0.15" textLength="32.2" lengthAdjust="spacingAndGlyphs">110.220</text>
<path fill="#000" d="M695 79h2v1h-2z"/>
<text x="700.6" y="83" fill="#000" stroke="#000" stroke-width="0.15" textLength="32.2" lengthAdjust="spacingAndGlyphs">110.130</text>
<path fill="#000" d="M695 112h2v1h-2z"/>
<text x="700.6" y="116" fill="#000" stroke="#000" stroke-width="0.15" textLength="32.2" lengthAdjust="spacingAndGlyphs">110.040</text>
<path fill="#000" d="M695 146h2v1h-2z"/>
<text x="700.6" y="150" fill="#000" stroke="#000" stroke-width="0.15" textLength="32.2" lengthAdjust="spacingAndGlyphs">109.950</text>
<path fill="#000" d="M695 180h2v1h-2z"/>
<text x="700.6" y="184" fill="#000" stroke="#000" stroke-width="0.15" textLength="32.2" lengthAdjust="spacingAndGlyphs">109.860</text>
<path fill="#000" d="M695 214h2v1h-2z"/>
<text x="700.6" y="218" fill="#000" stroke="#000" stroke-width="0.15" textLength="32.2" lengthAdjust="spacingAndGlyphs">109.770</text>
<path fill="#000" d="M695 248h2v1h-2z"/>
<text x="700.6" y="252" fill="#000" stroke="#000" stroke-width="0.15" textLength="32.2" lengthAdjust="spacingAndGlyphs">109.680</text>
<path fill="#000" d="M695 281h2v1h-2z"/>
<text x="700.6" y="285" fill="#000" stroke="#000" stroke-width="0.15" textLength="32.2" lengthAdjust="spacingAndGlyphs">109.590</text>
<path fill="#000" d="M695 315h2v1h-2z"/>
<text x="700.6" y="319" fill="#000" stroke="#000" stroke-width="0.15" textLength="32.2" lengthAdjust="spacingAndGlyphs">109.500</text>
<path fill="#000" d="M695 349h2v1h-2z"/>
<text x="700.6" y="353" fill="#000" stroke="#000" stroke-width="0.15" textLength="32.2" lengthAdjust="spacingAndGlyphs">109.410</text>
<path fill="#000" d="M695 357h1v1h-1z"/>
<text x="698" y="366" fill="#000" stroke="#000" stroke-width="0.15" textLength="38" lengthAdjust="spacingAndGlyphs">0.242788</text>
<path fill="#000" d="M695 430h1v1h-1zM695 478h1v1h-1z"/>
<text x="698" y="434" fill="#000" stroke="#000" stroke-width="0.15" textLength="17.5" lengthAdjust="spacingAndGlyphs">0.00</text>
<text x="698" y="476" fill="#000" stroke="#000" stroke-width="0.15" textLength="40.4" lengthAdjust="spacingAndGlyphs">-0.158319</text>
<path fill="#FF0000" d="M696 14h41v11h-41z"/>
<text x="700.6" y="23" fill="#fff" stroke="#fff" stroke-width="0.2" textLength="32.2" lengthAdjust="spacingAndGlyphs">110.287</text>
<path fill="#FF0000" d="M696 161h41v11h-41z"/>
<text x="700.6" y="170" fill="#fff" stroke="#fff" stroke-width="0.2" textLength="32.2" lengthAdjust="spacingAndGlyphs">109.895</text>
<path fill="#FF0000" d="M696 203h41v11h-41z"/>
<text x="700.6" y="212" fill="#fff" stroke="#fff" stroke-width="0.2" textLength="32.2" lengthAdjust="spacingAndGlyphs">109.782</text>
<path fill="#FF0000" d="M696 340h41v11h-41z"/>
<text x="700.6" y="349" fill="#fff" stroke="#fff" stroke-width="0.2" textLength="32.2" lengthAdjust="spacingAndGlyphs">109.417</text>
<path fill="#000" d="M696 109h41v11h-41z"/>
<text x="700.6" y="118" fill="#fff" stroke="#fff" stroke-width="0.2" textLength="32.2" lengthAdjust="spacingAndGlyphs">110.035</text>
<path fill="#000" d="M6 9h7v1h-7zM7 10h5v1h-5zM8 11h3v1h-3zM9 12h1v1h-1z"/>
<text x="18.6" y="14" fill="#000" stroke="#000" stroke-width="0.15" textLength="50" lengthAdjust="spacingAndGlyphs">USDJPY,H1</text>
<text x="76.2" y="14" fill="#000" stroke="#000" stroke-width="0.15" textLength="31" lengthAdjust="spacingAndGlyphs">110.047</text>
<text x="112.2" y="14" fill="#000" stroke="#000" stroke-width="0.15" textLength="31" lengthAdjust="spacingAndGlyphs">110.064</text>
<text x="148.2" y="14" fill="#000" stroke="#000" stroke-width="0.15" textLength="31" lengthAdjust="spacingAndGlyphs">110.034</text>
<text x="184.2" y="14" fill="#000" stroke="#000" stroke-width="0.15" textLength="31" lengthAdjust="spacingAndGlyphs">110.035</text>
<path fill="#000" d="M3 480h1v4h-1z"/>
<text x="2.4" y="492" fill="#000" stroke="#000" stroke-width="0.15" textLength="49.4" lengthAdjust="spacingAndGlyphs">10 Jan 2020</text>
<path fill="#000" d="M67 480h1v4h-1z"/>
<text x="66.6" y="492" fill="#000" stroke="#000" stroke-width="0.15" textLength="51.8" lengthAdjust="spacingAndGlyphs">13 Jan 08:00</text>
<path fill="#000" d="M131 480h1v4h-1z"/>
<text x="130.6" y="492" fill="#000" stroke="#000" stroke-width="0.15" textLength="51.8" lengthAdjust="spacingAndGlyphs">14 Jan 00:00</text>
<path fill="#000" d="M195 480h1v4h-1z"/>
<text x="194.6" y="492" fill="#000" stroke="#000" stroke-width="0.15" textLength="51.8" lengthAdjust="spacingAndGlyphs">14 Jan 16:00</text>
<path fill="#000" d="M259 480h1v4h-1z"/>
<text x="258.6" y="492" fill="#000" stroke="#000" stroke-width="0.15" textLength="51.8" lengthAdjust="spacingAndGlyphs">15 Jan 08:00</text>
<path fill="#000" d="M323 480h1v4h-1z"/>
<text x="322.6" y="492" fill="#000" stroke="#000" stroke-width="0.15" textLength="51.8" lengthAdjust="spacingAndGlyphs">16 Jan 00:00</text>
<path fill="#000" d="M387 480h1v4h-1z"/>
<text x="386.6" y="492" fill="#000" stroke="#000" stroke-width="0.15" textLength="51.8" lengthAdjust="spacingAndGlyphs">16 Jan 16:00</text>
<path fill="#000" d="M451 480h1v4h-1z"/>
<text x="450.6" y="492" fill="#000" stroke="#000" stroke-width="0.15" textLength="51.8" lengthAdjust="spacingAndGlyphs">17 Jan 08:00</text>
<path fill="#000" d="M515 480h1v4h-1z"/>
<text x="514.6" y="492" fill="#000" stroke="#000" stroke-width="0.15" textLength="51.8" lengthAdjust="spacingAndGlyphs">20 Jan 00:00</text>
<path fill="#000" d="M579 480h1v4h-1z"/>
<text x="578.6" y="492" fill="#000" stroke="#000" stroke-width="0.15" textLength="51.8" lengthAdjust="spacingAndGlyphs">20 Jan 16:00</text>
<path fill="#000" d="M643 480h1v4h-1z"/>
<text x="642.6" y="492" fill="#000" stroke="#000" stroke-width="0.15" textLength="51.8" lengthAdjust="spacingAndGlyphs">21 Jan 08:00</text>
</svg>
</body></html>
